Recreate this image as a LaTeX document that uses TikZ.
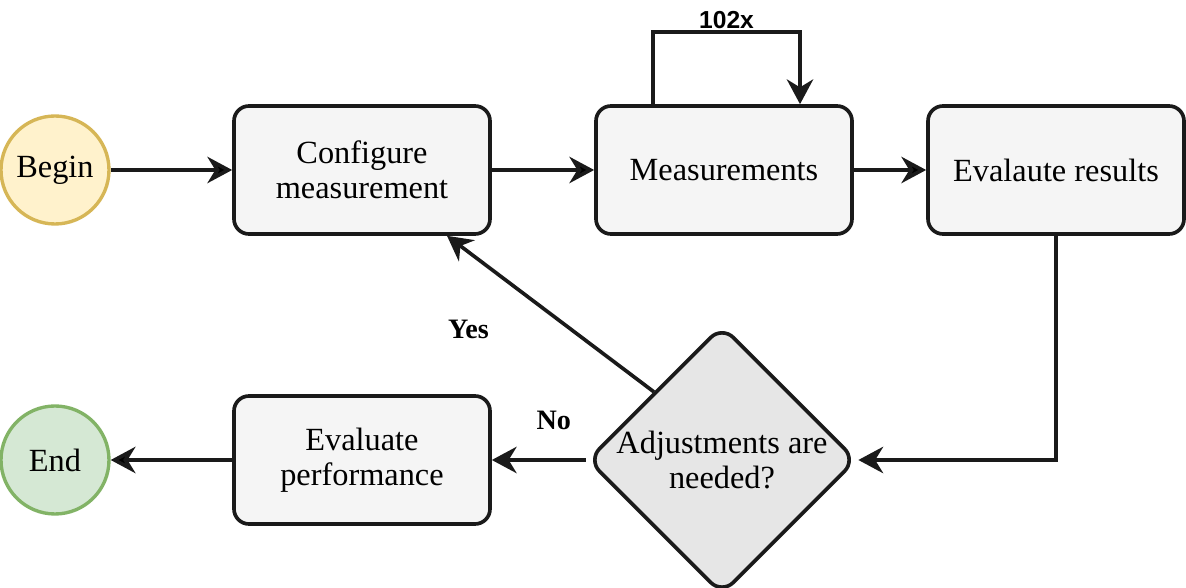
\documentclass[tikz,border=0pt]{standalone}
\usepackage{fontspec}
\setmainfont{Liberation Serif}
\setsansfont{Liberation Sans}
\usepackage{tikz}
\usetikzlibrary{arrows.meta,shapes.geometric}
\usepackage{xcolor}
\definecolor{beginfill}{HTML}{FFF2CC}
\definecolor{begindraw}{HTML}{D6B656}
\definecolor{endfill}{HTML}{D5E8D4}
\definecolor{enddraw}{HTML}{82B366}
\definecolor{boxfill}{HTML}{F5F5F5}
\definecolor{decfill}{HTML}{E6E6E6}
\definecolor{linecol}{HTML}{1A1A1A}

\begin{document}
\begin{tikzpicture}[font=\fontsize{23}{25}\selectfont]
\tikzset{mybox/.style={draw=linecol, fill=boxfill, line width=2.6pt, rounded corners=0.375cm, minimum width=6.4cm, minimum height=3.2cm, align=center} }
\tikzset{myterm/.style={circle, line width=2.4pt, minimum size=2.7cm, inner sep=0pt} }
\tikzset{mydecision/.style={diamond, draw=linecol, fill=decfill, line width=2.6pt, rounded corners=0.4cm, minimum width=6.675cm, minimum height=6.45cm, inner sep=0pt, align=center} }
\tikzset{>={Stealth[length=0.62cm, width=0.66cm, inset=0.2cm]}}
\tikzset{myarrow/.style={->, draw=linecol, line width=2.6pt} }
\useasboundingbox (0,0) rectangle (29.65,14.7);
\node[myterm, draw=begindraw, fill=beginfill] (begin) at (1.375,10.45) {Begin};
\node[mybox] (conf) at (9.05,10.45)  {Configure\\measurement};
\node[mybox] (meas) at (18.1,10.45)  {Measurements};
\node[mybox] (evres) at (26.4,10.45) {Evalaute results};
\node[mydecision] (adj) at (18.05,3.2) {Adjustments are\\needed?};
\node[mybox] (evperf) at (9.05,3.2) {Evaluate\\performance};
\node[myterm, draw=enddraw, fill=endfill] (end) at (1.375,3.2) {End};
\path[myarrow] (begin) edge (conf);
\path[myarrow] (conf) edge (meas);
\path[myarrow] (meas) edge (evres);
\draw[myarrow] ([xshift=-1.775cm]meas.north) -- ++(0,1.8cm) -| node[pos=0.25, above, yshift=-2pt, font=\sffamily\bfseries\fontsize{17.5}{20}\selectfont] {102x} ([xshift=1.9cm]meas.north);
\draw[myarrow] (evres.south) |- (adj.east);
\draw[myarrow] (adj.west) -- node[pos=0.34, yshift=1cm, font=\bfseries\fontsize{20}{22}\selectfont] {No} (evperf.east);
\draw[myarrow] (adj.north west) -- node[midway, xshift=-2.05cm, yshift=-0.4cm, font=\bfseries\fontsize{20}{22}\selectfont] {Yes} ([xshift=2.125cm]conf.south);
\path[myarrow] (evperf) edge (end);
\end{tikzpicture}
\end{document}
